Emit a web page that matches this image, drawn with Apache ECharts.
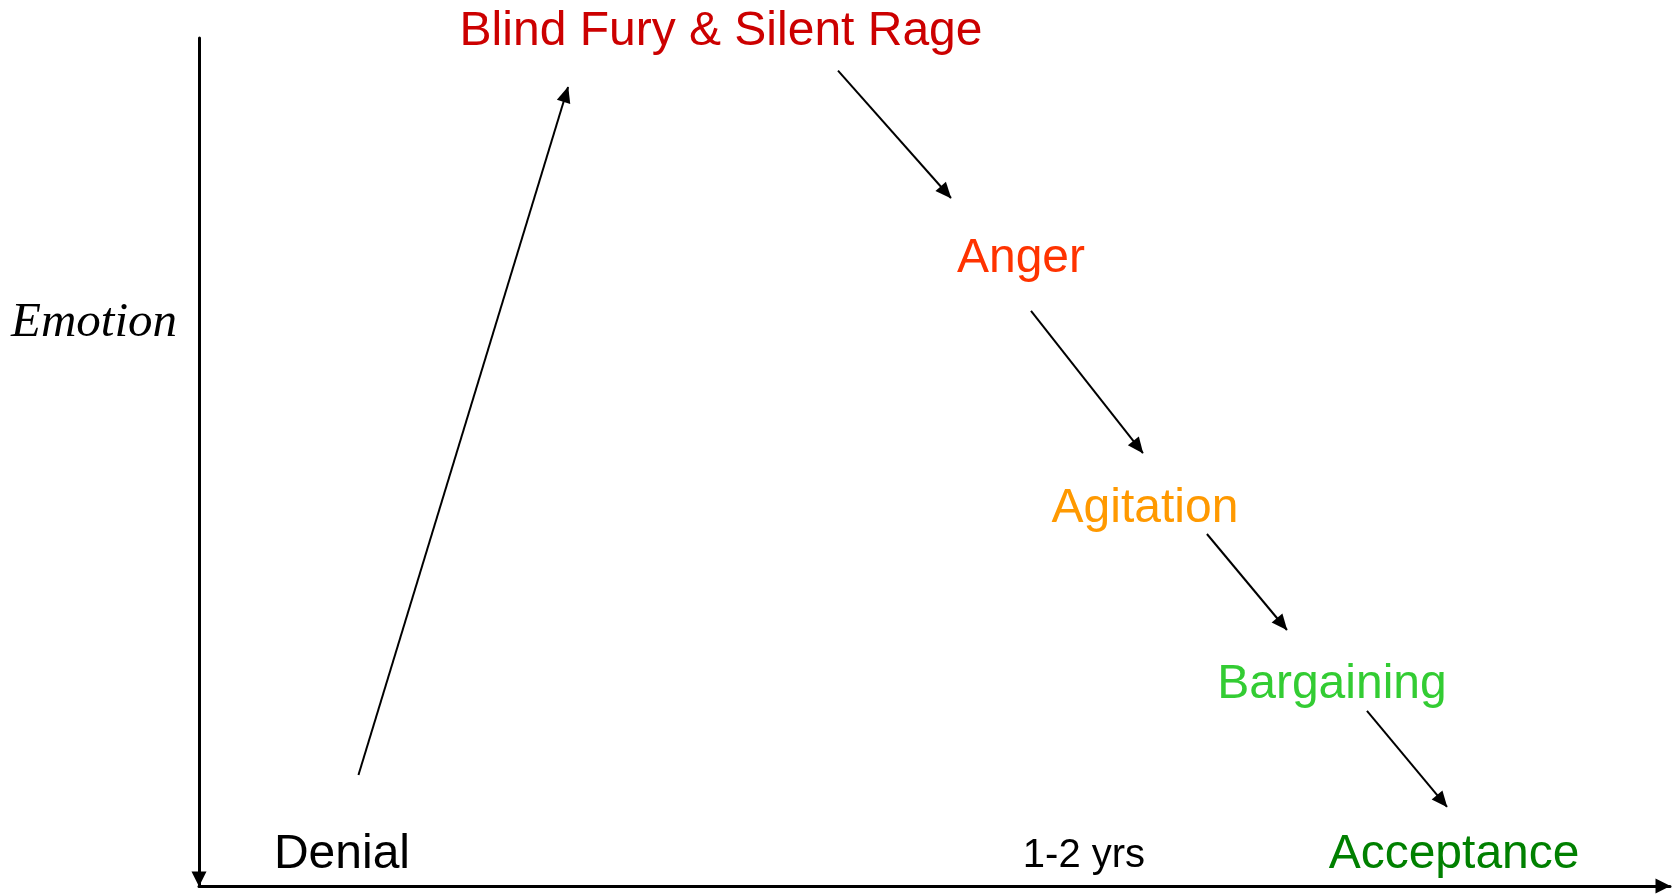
<!DOCTYPE html>
<html>
<head>
<meta charset="utf-8">
<title>Emotion stages</title>
<script src="https://cdn.jsdelivr.net/npm/echarts@6/dist/echarts.min.js"></script>
<style>
  html, body { margin: 0; padding: 0; background: #fff; }
  #chart { width: 1678px; height: 896px; }
</style>
</head>
<body>
<div id="chart"></div>
<script>
// stage labels and where they sit (chart units, 0-100 on both axes)
const stageNames = ['Denial', 'Blind Fury & Silent Rage', 'Anger', 'Agitation', 'Bargaining', 'Acceptance', '1-2 yrs'];
const stageX = [9.72, 35.49, 55.88, 64.31, 77.02, 85.32, 60.16];
const stageY = [3.7, 100.7, 74.0, 44.5, 23.7, 3.7, 3.6];

// arrows: start and end points (end = arrow tip)
const arrowFrom = [[10.84, 13.09], [43.44, 96.16], [56.56, 67.81], [68.52, 41.51], [79.40, 20.64]];
const arrowTo = [[25.09, 94.22], [51.12, 81.13], [64.17, 51.06], [73.96, 30.19], [84.84, 9.32]];

const stageColors = ['#000000', '#cc0000', '#ff3300', '#ff9900', '#33cc33', '#008000', '#000000'];
const stageSizes = [48, 48, 48, 48, 48, 48, 40];

const dom = document.getElementById('chart');
const myChart = echarts.init(dom, null, { renderer: 'canvas' });

const labelData = stageNames.map(function (name, i) {
  return {
    name: name,
    value: [stageX[i], stageY[i]],
    label: {
      color: stageColors[i],
      fontSize: stageSizes[i]
    }
  };
});

const arrowData = arrowFrom.map(function (p, i) {
  return [{ coord: p }, { coord: arrowTo[i] }];
});

const option = {
  backgroundColor: '#ffffff',
  animation: false,
  title: {
    text: 'Emotion',
    left: 11,
    top: 299,
    padding: 0,
    textStyle: {
      fontFamily: 'Liberation Serif',
      fontStyle: 'italic',
      fontWeight: 'normal',
      fontSize: 49,
      color: '#000'
    }
  },
  grid: { left: 199, right: 8, top: 38, bottom: 10 },
  xAxis: {
    type: 'value',
    min: 0,
    max: 100,
    axisLabel: { show: false },
    axisTick: { show: false },
    splitLine: { show: false },
    axisLine: {
      lineStyle: { color: '#000', width: 3 },
      symbol: ['none', 'triangle'],
      symbolSize: [15, 15],
      symbolOffset: [0, -7]
    }
  },
  yAxis: {
    type: 'value',
    min: 0,
    max: 100,
    axisLabel: { show: false },
    axisTick: { show: false },
    splitLine: { show: false },
    axisLine: {
      show: true,
      lineStyle: { color: '#000', width: 3 },
      symbol: ['triangle', 'none'],
      symbolSize: [15, 15],
      symbolOffset: [7, 0]
    }
  },
  series: [
    {
      type: 'scatter',
      clip: false,
      silent: true,
      symbolSize: 0,
      itemStyle: { opacity: 1 },
      label: {
        show: true,
        position: 'inside',
        formatter: '{b}',
        fontFamily: 'Liberation Sans',
        opacity: 1,
        textBorderWidth: 0,
        align: 'center',
        verticalAlign: 'middle'
      },
      data: labelData,
      markLine: {
        silent: true,
        animation: false,
        symbol: ['none', 'triangle'],
        symbolSize: [14, 16],
        symbolOffset: [0, [0, 7.5]],
        label: { show: false },
        emphasis: { disabled: true },
        lineStyle: { color: '#000', width: 2, type: 'solid', opacity: 1 },
        data: arrowData
      }
    }
  ]
};

myChart.setOption(option);
window.addEventListener('resize', myChart.resize);
</script>
</body>
</html>
